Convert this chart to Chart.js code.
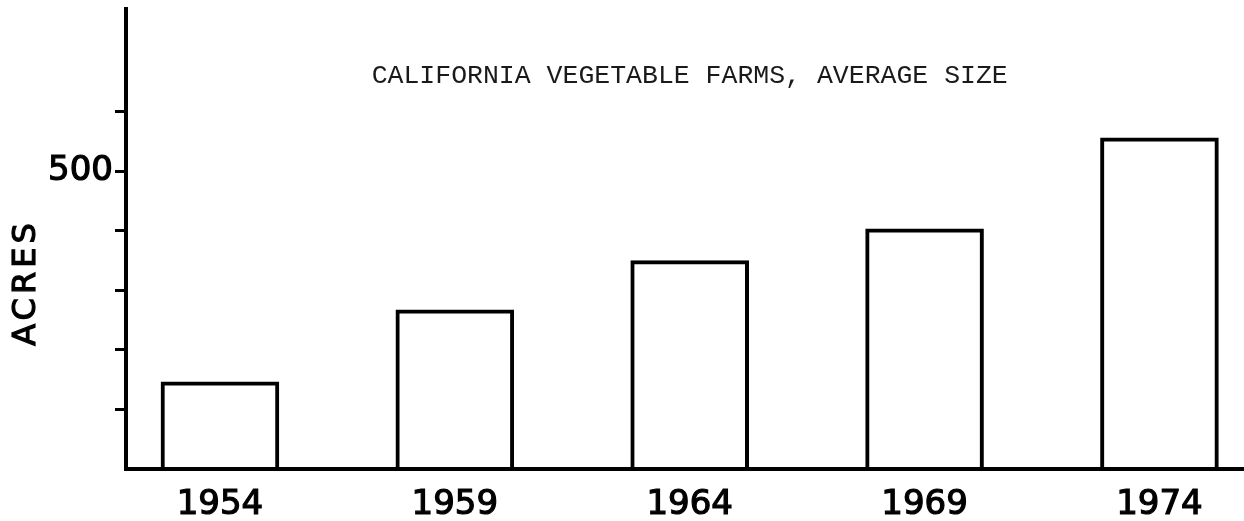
<!DOCTYPE html>
<html>
<head>
<meta charset="utf-8">
<script src="https://cdn.jsdelivr.net/npm/chart.js@4.4.1/dist/chart.umd.min.js"></script>
<style>
  html, body { margin: 0; padding: 0; background: #fff; }
  #wrap { width: 1244px; height: 521px; }
</style>
</head>
<body>
<div id="wrap"><canvas id="c" width="1244" height="521"></canvas></div>
<script>
// ---- data ----
const years = [1954, 1959, 1964, 1969, 1974];
const acres = [147, 268, 351, 404, 557];
const yTicks = [100, 200, 300, 400, 500, 600];
const yLabelled = [500];
const titleText = 'CALIFORNIA VEGETABLE FARMS, AVERAGE SIZE';
const yTitle = 'ACRES';

const textPlugin = {
  id: 'textPlugin',
  afterDraw(chart) {
    const ctx = chart.ctx;
    const xs = chart.scales.x, ys = chart.scales.y;
    ctx.save();
    ctx.fillStyle = '#1a1a1a';
    ctx.font = '26.5px "Liberation Mono"';
    ctx.textAlign = 'center';
    ctx.textBaseline = 'middle';
    ctx.fillText(titleText, xs.getPixelForValue(1964), ys.getPixelForValue(660));
    ctx.fillStyle = '#000';
    ctx.strokeStyle = '#000';
    ctx.lineWidth = 1.2;
    ctx.font = '32px "DejaVu Sans"';
    try { ctx.letterSpacing = '4px'; } catch (e) {}
    ctx.translate(27, ys.getPixelForValue(310));
    ctx.rotate(-Math.PI / 2);
    ctx.fillText(yTitle, 2, 0);
    ctx.strokeText(yTitle, 2, 0);
    ctx.restore();
  }
};

new Chart(document.getElementById('c'), {
  type: 'bar',
  data: {
    datasets: [{
      data: years.map((x, i) => ({ x: x, y: acres[i] })),
      backgroundColor: 'rgba(255,255,255,0)',
      borderColor: '#000',
      borderWidth: 4,
      categoryPercentage: 1,
      barPercentage: 0.505
    }]
  },
  options: {
    responsive: false,
    animation: false,
    layout: { padding: { top: 9, right: 0, left: 0, bottom: 0 } },
    plugins: { legend: { display: false }, title: { display: false }, tooltip: { enabled: false } },
    scales: {
      x: {
        type: 'linear',
        offset: false,
        min: 1952,
        max: 1975.8,
        afterBuildTicks(scale) { scale.ticks = years.map(v => ({ value: v })); },
        afterFit(scale) { scale.height = 52; scale.paddingLeft = 0; scale.paddingRight = 0; },
        grid: { display: false, drawTicks: false },
        border: { display: true, color: '#000', width: 4 },
        ticks: {
          color: '#000',
          font: { family: 'DejaVu Sans', size: 34 },
          textStrokeColor: '#000',
          textStrokeWidth: 1.2,
          padding: 16,
          maxRotation: 0,
          autoSkip: false,
          callback: (v) => String(v)
        }
      },
      y: {
        min: 0,
        max: 773,
        afterBuildTicks(scale) { scale.ticks = yTicks.map(v => ({ value: v })); },
        afterFit(scale) { scale.width = 126; scale.paddingTop = 0; scale.paddingBottom = 0; },
        grid: { drawOnChartArea: false, drawTicks: true, tickLength: 11, lineWidth: 3, color: '#000' },
        border: { display: true, color: '#000', width: 4 },
        ticks: {
          color: '#000',
          font: { family: 'DejaVu Sans', size: 34 },
          textStrokeColor: '#000',
          textStrokeWidth: 1.2,
          padding: 2,
          callback: (v) => yLabelled.includes(v) ? String(v) : ''
        }
      }
    }
  },
  plugins: [textPlugin]
});
</script>
</body>
</html>
